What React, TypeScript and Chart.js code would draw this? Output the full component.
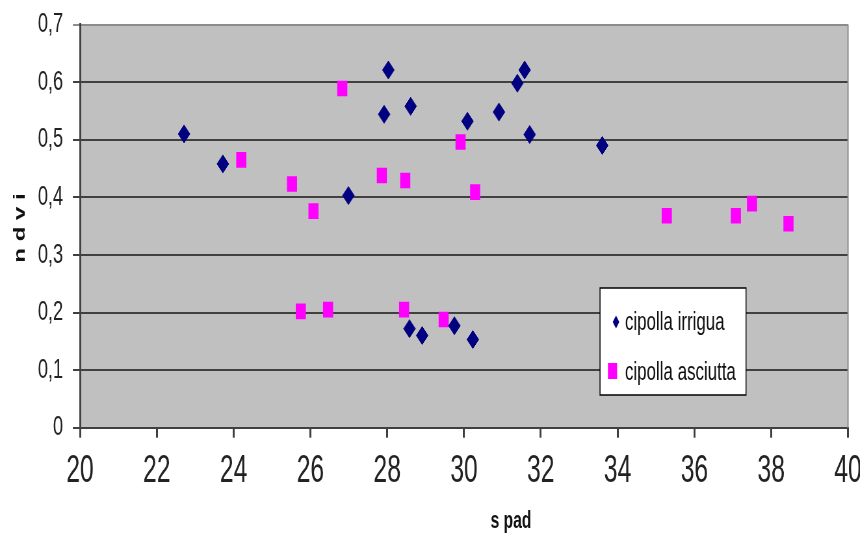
import React, { useEffect, useRef } from 'react';
import { Chart, registerables } from 'chart.js';

Chart.register(...registerables);

// ---- data ----
const seriesLabels = ['cipolla irrigua', 'cipolla asciutta'];
const xTitle = 's pad';
const yTitle = 'n d v i';

const irriguaSpad = [22.71, 23.72, 26.99, 27.92, 28.03, 28.61, 30.09, 30.91, 31.39, 31.58, 31.71, 33.6, 28.58, 28.91, 29.75, 30.23];
const irriguaNdvi = [0.51, 0.458, 0.403, 0.544, 0.621, 0.558, 0.532, 0.548, 0.598, 0.621, 0.509, 0.49, 0.172, 0.16, 0.177, 0.153];

const asciuttaSpad = [24.2, 25.52, 26.08, 26.83, 27.86, 28.47, 29.91, 30.29, 35.28, 37.08, 37.5, 38.45, 25.75, 26.46, 28.44, 29.47];
const asciuttaNdvi = [0.465, 0.423, 0.376, 0.589, 0.438, 0.429, 0.496, 0.409, 0.368, 0.368, 0.389, 0.354, 0.202, 0.205, 0.205, 0.188];

const xMin = 20;
const xMax = 40;
const xStep = 2;
const yMin = 0;
const yMax = 0.7;
const yStep = 0.1;

const colors = ['#000080', '#ff00ff'];

// ---- layout (display is horizontally condensed like the reference) ----
const SX = 0.65;
const W = 860;
const H = 534;
const IW = Math.round(W / SX);
const FONT = '"Liberation Sans", Arial, Helvetica, sans-serif';
const NARROW = '"Liberation Sans Narrow", "Arial Narrow", "Liberation Sans", Arial, sans-serif';

const decorPlugin = {
  id: 'decor',
  beforeDraw(chart: any) {
    const { ctx, chartArea: a } = chart;
    ctx.save();
    ctx.fillStyle = '#ffffff';
    ctx.fillRect(0, 0, chart.width, chart.height);
    ctx.fillStyle = '#c0c0c0';
    ctx.fillRect(a.left, a.top, a.right - a.left, a.bottom - a.top);
    ctx.restore();
  },
  afterDraw(chart: any) {
    const { ctx, chartArea: a } = chart;
    ctx.save();
    // right border of plot area
    ctx.strokeStyle = '#8c8c8c';
    ctx.lineWidth = 2;
    ctx.beginPath();
    ctx.moveTo(a.right, a.top);
    ctx.lineTo(a.right, a.bottom);
    ctx.stroke();

    // axis titles
    ctx.fillStyle = '#111111';
    ctx.font = 'bold 24px ' + FONT;
    ctx.textAlign = 'center';
    ctx.textBaseline = 'alphabetic';
    ctx.fillText(xTitle, 511 / SX, 528);
    ctx.save();
    ctx.translate(25 / SX, 228);
    ctx.rotate(-Math.PI / 2);
    ctx.fillText(yTitle, 0, 0);
    ctx.restore();

    // legend box inside the plot
    const lx = 600 / SX;
    const rx = 746 / SX;
    const ty = 288;
    const by = 395;
    ctx.fillStyle = '#ffffff';
    ctx.fillRect(lx, ty, rx - lx, by - ty);
    ctx.strokeStyle = '#000000';
    ctx.lineWidth = 1.5;
    ctx.strokeRect(lx, ty, rx - lx, by - ty);

    const ds = chart.data.datasets;
    const rows = [
      { my: 322, ty: 330 },
      { my: 371, ty: 380 },
    ];
    ds.forEach((d: any, i: number) => {
      const r = rows[i];
      ctx.fillStyle = d.backgroundColor;
      if (d.pointStyle === 'rectRot') {
        const cx = 616 / SX;
        ctx.beginPath();
        ctx.moveTo(cx, r.my - 6.5);
        ctx.lineTo(cx + 5, r.my);
        ctx.lineTo(cx, r.my + 6.5);
        ctx.lineTo(cx - 5, r.my);
        ctx.closePath();
        ctx.fill();
      } else {
        const cx = 612.5 / SX;
        ctx.fillRect(cx - 7, r.my - 8, 14, 16);
      }
      ctx.fillStyle = '#111111';
      ctx.font = '26px ' + FONT;
      ctx.textAlign = 'left';
      ctx.textBaseline = 'alphabetic';
      ctx.fillText(d.label, 625 / SX, r.ty);
    });
    ctx.restore();
  },
};

export default function App() {
  const ref = useRef<HTMLCanvasElement>(null);

  useEffect(() => {
    const canvas = ref.current;
    if (!canvas) return;
    Chart.defaults.font.family = FONT;

    const chart = new Chart(canvas, {
      type: 'scatter',
      data: {
        datasets: [
          {
            label: seriesLabels[0],
            data: irriguaSpad.map((x, i) => ({ x, y: irriguaNdvi[i] })),
            pointStyle: 'rectRot',
            pointRadius: 9,
            pointHoverRadius: 9,
            backgroundColor: colors[0],
            borderColor: colors[0],
            borderWidth: 1,
          },
          {
            label: seriesLabels[1],
            data: asciuttaSpad.map((x, i) => ({ x, y: asciuttaNdvi[i] })),
            pointStyle: 'rect',
            pointRadius: 11,
            pointHoverRadius: 11,
            backgroundColor: colors[1],
            borderColor: colors[1],
            borderWidth: 0,
          },
        ],
      },
      options: {
        responsive: false,
        animation: false,
        devicePixelRatio: 1,
        events: [],
        layout: { padding: { top: 24.5, right: IW - 848 / SX, left: 0, bottom: 0 } },
        plugins: {
          legend: { display: false },
          tooltip: { enabled: false },
          title: { display: false },
        },
        scales: {
          x: {
            type: 'linear',
            min: xMin,
            max: xMax,
            ticks: {
              stepSize: xStep,
              font: { size: 38, family: NARROW },
              color: '#222222',
              padding: 11,
              maxRotation: 0,
              autoSkip: false,
            },
            grid: {
              drawOnChartArea: false,
              drawTicks: true,
              tickLength: 10,
              color: '#404040',
              lineWidth: 3,
            },
            border: { display: true, color: '#404040', width: 2 },
            afterFit: (s: any) => {
              s.height = H - 427.7;
              s.paddingLeft = 0;
              s.paddingRight = 0;
            },
          },
          y: {
            type: 'linear',
            min: yMin,
            max: yMax,
            ticks: {
              stepSize: yStep,
              font: { size: 28, family: FONT },
              color: '#222222',
              padding: 15,
              callback: (v: any) => (Number(v) === 0 ? '0' : Number(v).toFixed(1).replace('.', ',')),
            },
            grid: {
              drawTicks: true,
              tickLength: 11,
              lineWidth: 2,
              color: (c: any) =>
                c.tick && Math.abs(c.tick.value - yMax) < 1e-6 ? '#8c8c8c' : '#404040',
            },
            border: { display: true, color: '#404040', width: 3 },
            afterFit: (s: any) => {
              s.width = 80 / SX;
              s.paddingTop = 0;
              s.paddingBottom = 0;
            },
          },
        },
      } as any,
      plugins: [decorPlugin],
    });

    return () => chart.destroy();
  }, []);

  return (
    <div style={{ position: 'absolute', left: 0, top: 0, width: W, height: H, overflow: 'hidden', background: '#fff' }}>
      <div style={{ width: IW, height: H, transform: `scaleX(${SX})`, transformOrigin: '0 0' }}>
        <canvas ref={ref} width={IW} height={H} style={{ width: IW + 'px', height: H + 'px', display: 'block' }} />
      </div>
    </div>
  );
}
